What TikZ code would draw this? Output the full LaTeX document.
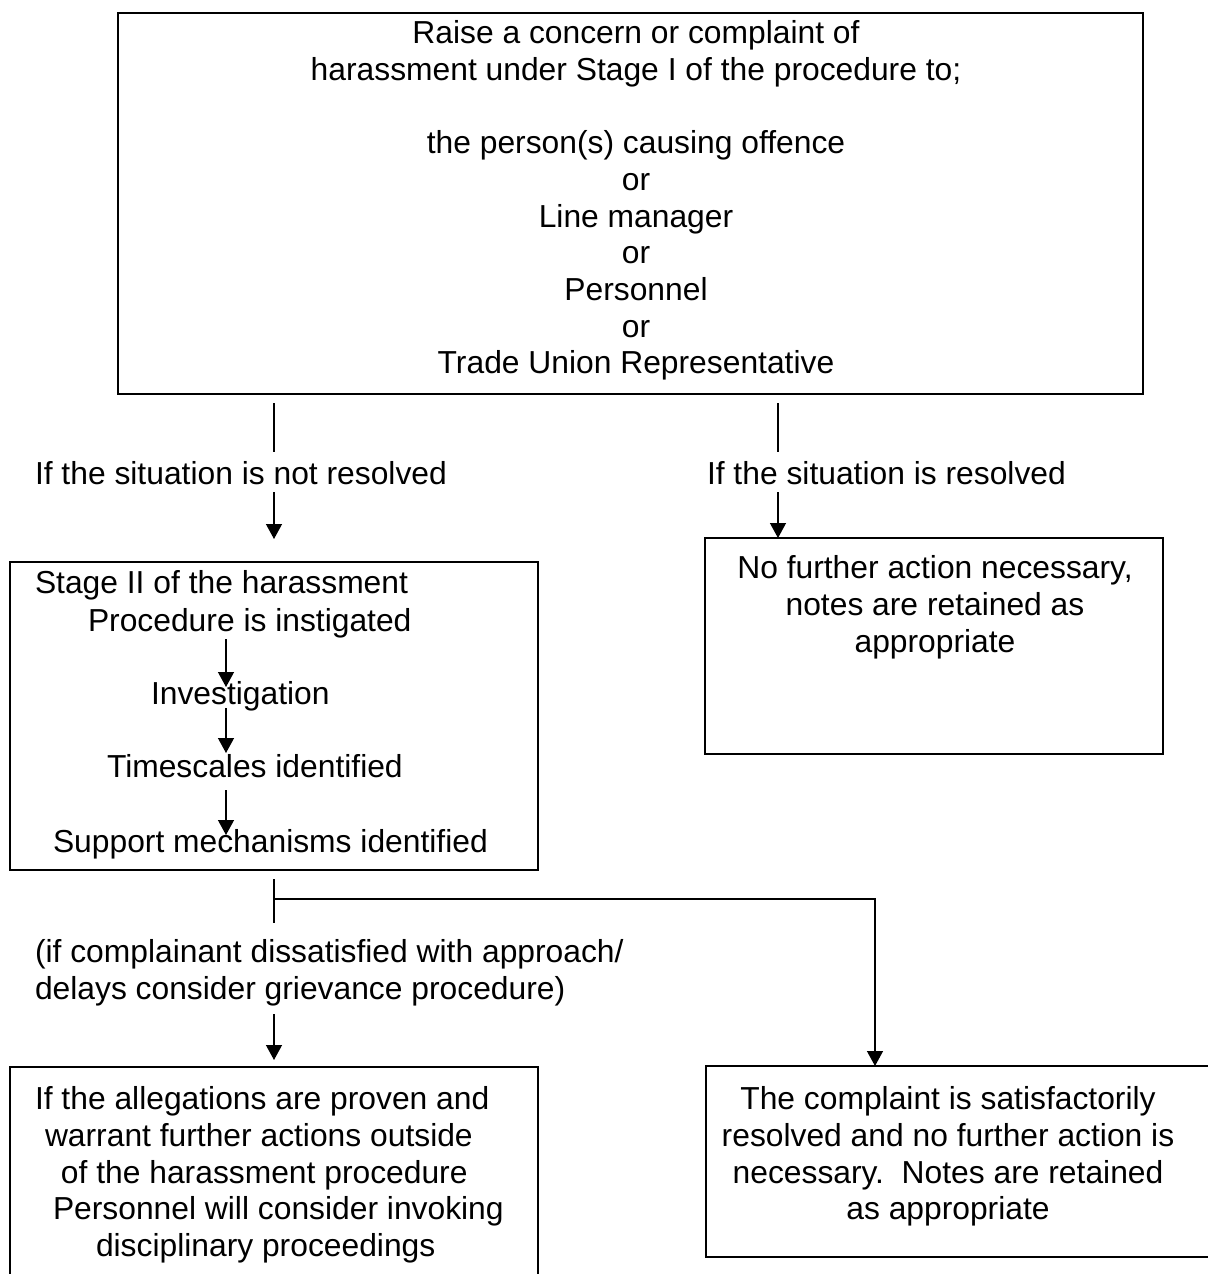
\documentclass[tikz,border=0pt]{standalone}
\usepackage{fontspec}
\setmainfont{Liberation Sans}
\usetikzlibrary{arrows.meta,fit}
\begin{document}
\begin{tikzpicture}[x=0.5pt,y=-0.5pt,
  txt/.style={inner sep=0pt,outer sep=0pt,font=\fontsize{15.9pt}{18.4pt}\selectfont},
  lt/.style={txt,anchor=base west},
  ct/.style={txt,anchor=base},
  box/.style={draw,line width=1pt,inner sep=0pt,outer sep=0pt},
  conn/.style={line width=0.65pt},
  arr/.style={conn,-{Triangle[length=7.5pt,width=8pt]}}]
\useasboundingbox (0,0) rectangle (1208,1274);
\fill[white] (0,0) rectangle (1208,1274);
\clip (0,0) rectangle (1208,1274);

% top box
\node[box,fit={(118,13) (1143,394)}] (top) {};
\node[ct] (t1) at (636,43) {Raise a concern or complaint of};
\node[ct] (t2) at (636,80) {harassment under Stage I of the procedure to;};
\node[ct] (t3) at (636,153) {the person(s) causing offence};
\node[ct] (t4) at (636,190) {or};
\node[ct] (t5) at (636,227) {Line manager};
\node[ct] (t6) at (636,263) {or};
\node[ct] (t7) at (636,300) {Personnel};
\node[ct] (t8) at (636,337) {or};
\node[ct] (t9) at (636,373) {Trade Union Representative};

% first split
\coordinate (la) at (274,403);
\coordinate (lb) at (274,452);
\coordinate (lc) at (274,492);
\coordinate (ld) at (274,539);
\coordinate (ra) at (778,403);
\coordinate (rb) at (778,452);
\coordinate (rc) at (778,492);
\draw[conn] (la) -- (lb);
\draw[conn] (ra) -- (rb);
\node[lt] (lnot) at (35,484) {If the situation is not resolved};
\node[lt] (lres) at (707,484) {If the situation is resolved};
\draw[arr] (lc) -- (ld);

% stage II box
\node[box,fit={(10,562) (538,870)}] (stage) {};
\node[lt] (s1) at (35,593) {Stage II of the harassment};
\node[lt] (s2) at (88,631) {Procedure is instigated};
\node[lt] (s3) at (151,704) {Investigation};
\node[lt] (s4) at (107,777) {Timescales identified};
\node[lt] (s5) at (53,852) {Support mechanisms identified};
\coordinate (i1a) at (226,639);
\coordinate (i1b) at (226,687);
\coordinate (i2a) at (226,708);
\coordinate (i2b) at (226,753);
\coordinate (i3a) at (226,790);
\coordinate (i3b) at (226,835);
\draw[arr] (i1a) -- (i1b);
\draw[arr] (i2a) -- (i2b);
\draw[arr] (i3a) -- (i3b);

% no further action box
\node[box,fit={(705,538) (1163,754)}] (nfa) {};
\draw[arr] (rc) -- (rc |- nfa.north);
\node[ct] (n1) at (935,578) {No further action necessary,};
\node[ct] (n2) at (935,615) {notes are retained as};
\node[ct] (n3) at (935,652) {appropriate};

% second split
\coordinate (ba) at (274,879);
\coordinate (bb) at (274,923);
\coordinate (bm) at (274,899);
\coordinate (bc) at (875,899);
\coordinate (bd) at (274,1014);
\coordinate (be) at (274,1060);
\draw[conn] (ba) -- (bb);
\node[lt] (g1) at (35,962) {(if complainant dissatisfied with approach/};
\node[lt] (g2) at (35,999) {delays consider grievance procedure)};
\draw[arr] (bd) -- (be);

% bottom left box
\node[box,fit={(10,1067) (538,1300)}] (disc) {};
\node[lt] (d1) at (35,1109) {If the allegations are proven and};
\node[lt] (d2) at (45,1146) {warrant further actions outside};
\node[lt] (d3) at (61,1183) {of the harassment procedure};
\node[lt] (d4) at (53,1219) {Personnel will consider invoking};
\node[lt] (d5) at (96,1256) {disciplinary proceedings};

% bottom right box
\node[box,fit={(706,1066) (1230,1257)}] (sat) {};
\draw[arr] (bm) -- (bc) -- (bc |- sat.north);
\node[ct] (r1) at (948,1109) {The complaint is satisfactorily};
\node[ct] (r2) at (948,1146) {resolved and no further action is};
\node[ct] (r3) at (948,1183) {necessary.\ \ Notes are retained};
\node[ct] (r4) at (948,1219) {as appropriate};
\end{tikzpicture}
\end{document}
